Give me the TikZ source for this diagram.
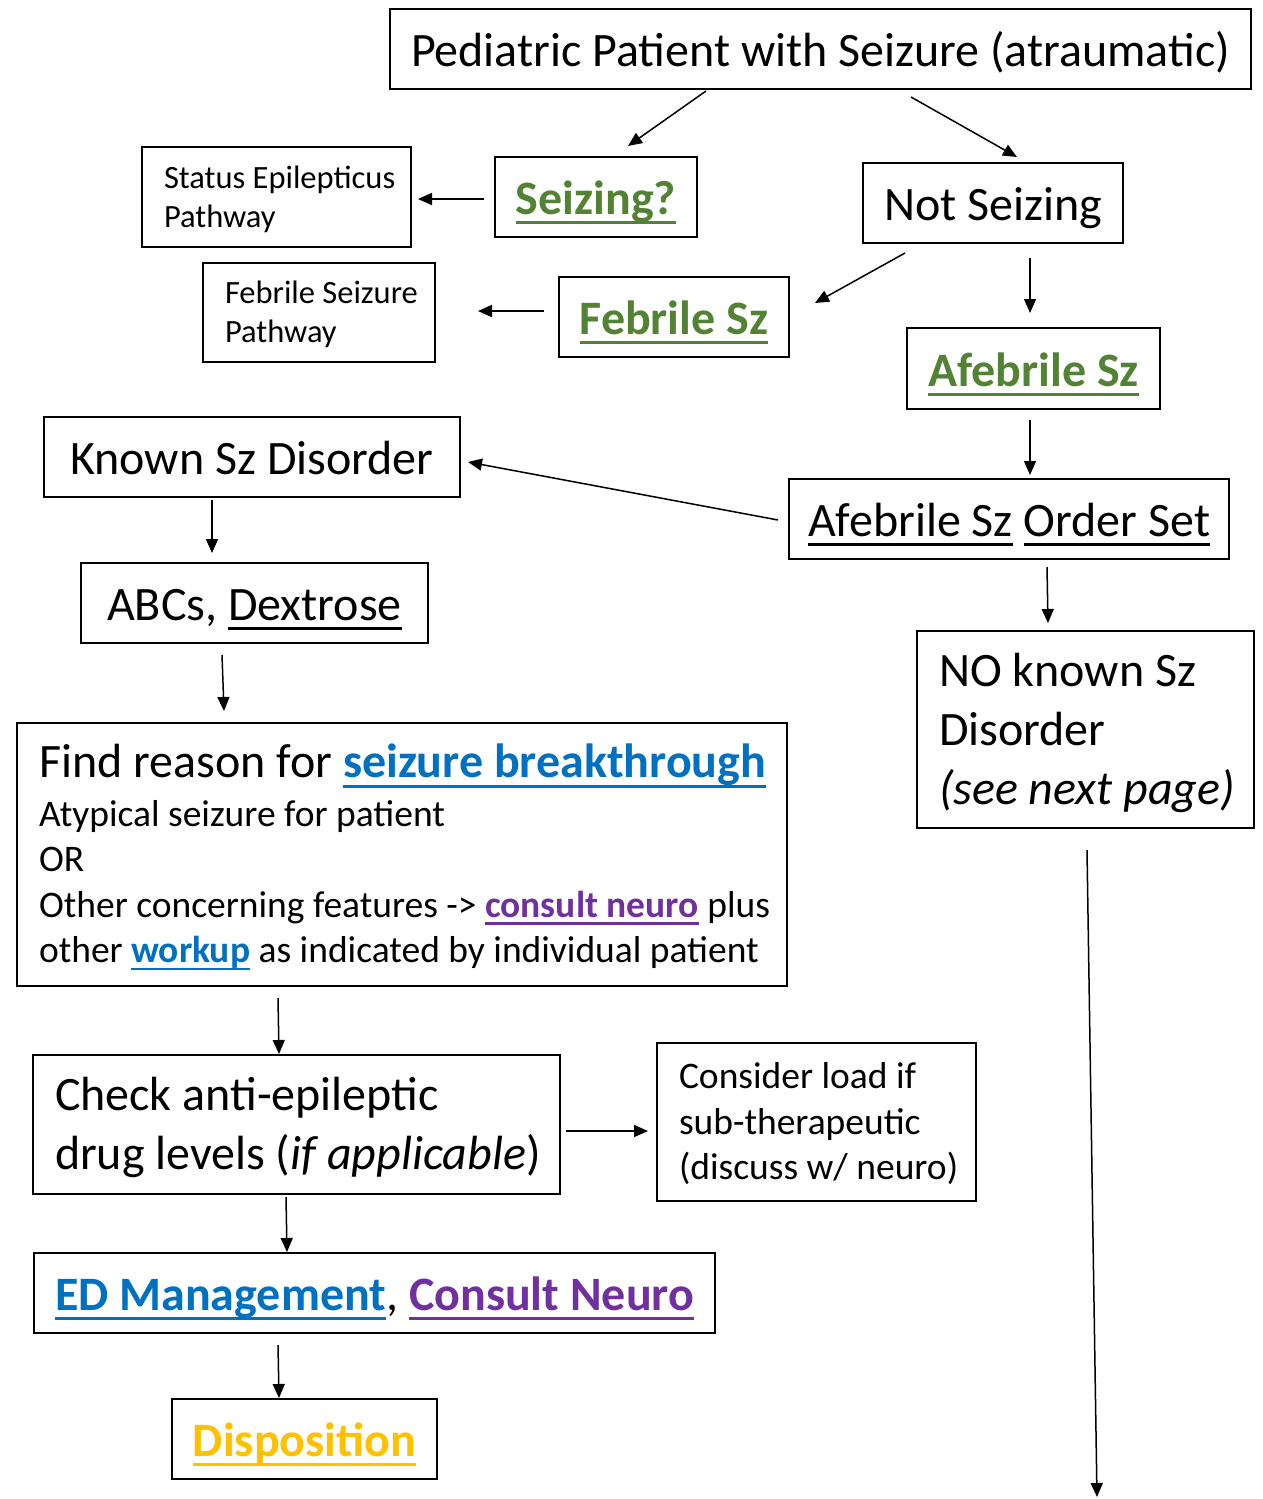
\documentclass[tikz,border=0pt]{standalone}
\usepackage{fontspec}
\setmainfont{Carlito}
\usetikzlibrary{arrows.meta,calc}
\definecolor{sgreen}{HTML}{548235}
\definecolor{sblue}{HTML}{0070C0}
\definecolor{spurple}{HTML}{7030A0}
\definecolor{sgold}{HTML}{FFC000}
\newsavebox{\ulsavebox}
\newcommand{\myul}[1]{\sbox{\ulsavebox}{#1}\rlap{\rule[-0.2em]{\wd\ulsavebox}{2.7pt}}\usebox{\ulsavebox}}
\newcommand{\grn}[1]{\textcolor{sgreen}{\bfseries\myul{#1}}}
\newcommand{\blu}[1]{\textcolor{sblue}{\bfseries\myul{#1}}}
\newcommand{\pur}[1]{\textcolor{spurple}{\bfseries\myul{#1}}}
\newcommand{\gld}[1]{\textcolor{sgold}{\bfseries\myul{#1}}}
\newcommand{\lstrut}{\rule[-0.16em]{0pt}{0.98em}}
\newcommand{\tline}[1]{\mbox{\spaceskip=0pt\xspaceskip=0pt\lstrut #1}}
\tikzset{
  box/.style={draw, line width=2.5pt, inner sep=0pt, outer sep=0pt, align=center, text height=41pt, text depth=6pt},
  lbox/.style={draw, line width=2.5pt, inner xsep=22pt, inner ysep=0pt, outer sep=0pt, align=left},
  bigf/.style={font=\fontsize{48}{59}\selectfont},
  medf/.style={font=\fontsize{37.5}{45.5}\selectfont},
  smallf/.style={font=\fontsize{32.5}{39}\selectfont},
  arr/.style={line width=1.5pt, -{Triangle[length=14pt,width=12pt]}}
}
\begin{document}
\begin{tikzpicture}[x=1pt,y=-1pt]
\useasboundingbox (0,0) rectangle (1262,1499);
\node[box,bigf,minimum width=861,minimum height=80] (ped) at (820.5,49) {Pediatric Patient with Seizure (atraumatic)};
\node[box,bigf,minimum width=202,minimum height=80] (seiz) at (596,197) {\grn{Seizing?}};
\node[lbox,smallf,minimum width=269,minimum height=100,text width=225] (stat) at (276.5,197) {\tline{Status Epilepticus}\\\tline{Pathway}};
\node[box,bigf,minimum width=260,minimum height=80] (nots) at (993,203) {Not Seizing};
\node[lbox,smallf,minimum width=232,minimum height=99,text width=188] (fsp) at (319,312.5) {\tline{Febrile Seizure}\\\tline{Pathway}};
\node[box,bigf,minimum width=230,minimum height=80] (feb) at (674,317) {\grn{Febrile Sz}};
\node[box,bigf,minimum width=253,minimum height=81] (afeb) at (1033.5,368.5) {\grn{Afebrile Sz}};
\node[box,bigf,minimum width=416,minimum height=80] (known) at (252,457) {Known Sz Disorder};
\node[box,bigf,minimum width=440,minimum height=80] (ord) at (1009,519) {\myul{Afebrile Sz} \myul{Order Set}};
\node[box,bigf,minimum width=347,minimum height=80] (abc) at (254.5,603) {ABCs, \myul{Dextrose}};
\node[lbox,bigf,minimum width=337,minimum height=197,text width=293] (nok) at (1085.5,729.5) {\tline{NO known Sz}\\\tline{Disorder}\\\tline{\itshape (see next page)}};
\node[lbox,medf,minimum width=770,minimum height=263,text width=726] (find) at (402,854.5)
  {{\fontsize{48}{59}\selectfont\tline{Find reason for \blu{seizure breakthrough}}\par}\vspace{3pt}
   \tline{Atypical seizure for patient}\\\tline{OR}\\\tline{Other concerning features -> \pur{consult neuro} plus}\\\tline{other \blu{workup} as indicated by individual patient}};
\node[lbox,bigf,minimum width=527,minimum height=139,text width=483] (chk) at (296.5,1124.5) {\tline{Check anti-epileptic}\\\tline{drug levels (\textit{if applicable})}};
\node[lbox,medf,minimum width=319,minimum height=158,text width=275] (cons) at (816.5,1122) {\tline{Consider load if}\\\tline{sub-therapeutic}\\\tline{(discuss w/ neuro)}};
\node[box,bigf,minimum width=681,minimum height=80] (ed) at (374.5,1293) {\blu{ED Management}, \pur{Consult Neuro}};
\node[box,bigf,minimum width=265,minimum height=80] (disp) at (304.5,1439) {\gld{Disposition}};
\coordinate (pend) at (1097,1497);
\draw[arr] ($(ped.south west)+(316,2)$) -- ($(seiz.north west)+(133,-11)$);
\draw[arr] ($(ped.south west)+(521,8)$) -- ($(nots.north west)+(154,-6)$);
\draw[arr] ($(seiz.north west)+(-11,42)$) -- ($(stat.north east)+(7,52)$);
\draw[arr] ($(nots.south west)+(42,10)$) -- ($(feb.north east)+(26,26)$);
\draw[arr] ($(nots.south west)+(167,15)$) -- ($(afeb.north west)+(123,-15)$);
\draw[arr] ($(feb.north west)+(-15,34)$) -- ($(fsp.north east)+(43,48)$);
\draw[arr] ($(afeb.south west)+(123,11)$) -- ($(ord.north west)+(241,-4)$);
\draw[arr] ($(ord.north west)+(-11,41)$) -- ($(known.north east)+(8,45)$);
\draw[arr] ($(ord.south west)+(258,8)$) -- ($(nok.north west)+(131,-8)$);
\draw[arr] ($(known.south west)+(168,3)$) -- ($(abc.north west)+(131,-10)$);
\draw[arr] ($(abc.south west)+(141,12)$) -- ($(find.north west)+(207,-12)$);
\draw[arr] ($(find.south west)+(261,12)$) -- ($(chk.north west)+(246,-1)$);
\draw[arr] ($(chk.north east)+(6,76)$) -- ($(cons.north west)+(-9,88)$);
\draw[arr] ($(chk.south west)+(253,3)$) -- ($(ed.north west)+(253,-1)$);
\draw[arr] ($(ed.south west)+(244,12)$) -- ($(disp.north west)+(107,-1)$);
\draw[arr] ($(nok.south west)+(170,22)$) -- (pend);
\end{tikzpicture}
\end{document}
